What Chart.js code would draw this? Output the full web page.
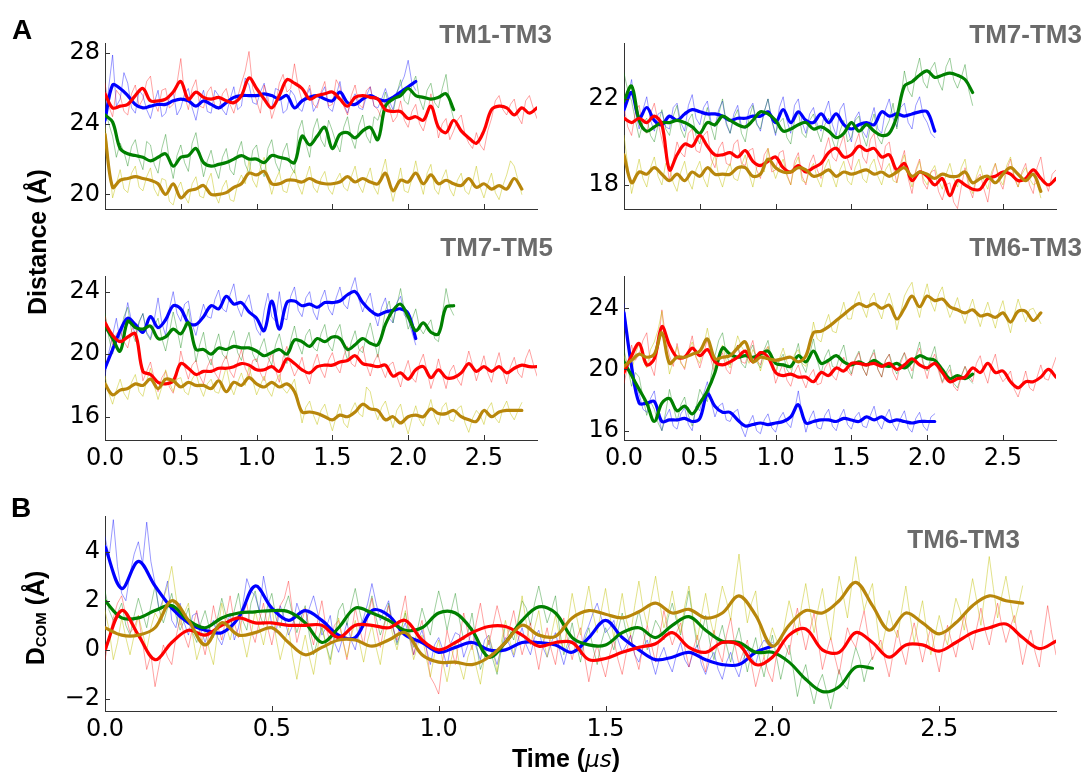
<!DOCTYPE html>
<html>
<head>
<meta charset="utf-8">
<script src="https://cdn.jsdelivr.net/npm/chart.js@4.4.1/dist/chart.umd.min.js"></script>
<style>
  body { margin: 0; width: 1086px; height: 773px; background: #fff; position: relative; overflow: hidden; font-family: "Liberation Sans", Arial, sans-serif; }
  canvas { position: absolute; }
  .letter { position: absolute; font: bold 28px "Liberation Sans", Arial, sans-serif; line-height: 1; color: #000; }
  .tag { position: absolute; font: bold 26px "Liberation Sans", Arial, sans-serif; line-height: 1; color: #6b6b6b; white-space: nowrap; }
  .ytitle { position: absolute; font: bold 25px "Liberation Sans", Arial, sans-serif; line-height: 1; white-space: nowrap; transform: translate(-50%, -50%) rotate(-90deg); }
  .ytitle sub { font-size: 15px; vertical-align: -2px; }
  .xtitle { position: absolute; font: bold 25px "Liberation Sans", Arial, sans-serif; line-height: 1; white-space: nowrap; transform: translate(-50%, -50%); }
  .xtitle i { font-family: "DejaVu Sans", sans-serif; font-weight: normal; font-size: 23px; }
</style>
</head>
<body>
<canvas id="tm13" width="557" height="235" style="left:0;top:19px"></canvas>
<canvas id="tm73" width="536" height="235" style="left:540px;top:19px"></canvas>
<canvas id="tm75" width="557" height="233" style="left:0;top:252px"></canvas>
<canvas id="tm63" width="536" height="233" style="left:540px;top:252px"></canvas>
<canvas id="dcom" width="1076" height="264" style="left:0;top:492px"></canvas>

<div class="letter" style="left:12px;top:16px">A</div>
<div class="letter" style="left:11px;top:494px">B</div>
<div class="tag" style="right:534px;top:21px">TM1-TM3</div>
<div class="tag" style="right:4px;top:21px">TM7-TM3</div>
<div class="tag" style="right:533px;top:234px">TM7-TM5</div>
<div class="tag" style="right:4px;top:234px">TM6-TM3</div>
<div class="tag" style="right:66px;top:526px">TM6-TM3</div>
<div class="ytitle" style="left:37px;top:242px">Distance (Å)</div>
<div class="ytitle" style="left:35px;top:618px">D<sub>COM</sub> (Å)</div>
<div class="xtitle" style="left:566px;top:758px">Time (<i>μs</i>)</div>

<script>
// sampling intervals (µs): smoothed traces, raw traces in A, raw traces in B
const stepFit = 0.05;
const stepRawA = 0.025;
const stepRawB = 0.0125;

const timeTicks = [0, 0.5, 1, 1.5, 2, 2.5];
const timeMax = 2.85;

// TM1-TM3
const tm13Ticks = [20, 24, 28];
const tm13BlueFit = [24.2, 26.2, 26.0, 25.6, 25.1, 24.9, 25.0, 25.1, 25.1, 25.3, 25.4, 25.3, 25.0, 25.3, 25.1, 24.9, 25.2, 25.5, 25.6, 25.6, 25.6, 25.7, 25.6, 25.4, 25.6, 24.9, 25.3, 25.5, 25.6, 25.4, 25.3, 25.8, 25.2, 25.1, 25.4, 25.6, 25.4, 25.3, 25.5, 25.8, 26.1, 26.4];
const tm13BlueRaw = [23.8, 26.1, 27.9, 25.0, 25.4, 26.9, 26.3, 24.9, 24.6, 25.9, 25.6, 24.8, 24.3, 25.2, 25.9, 24.4, 24.6, 25.5, 25.8, 24.5, 24.9, 25.7, 26.0, 24.9, 24.2, 25.3, 25.9, 24.7, 24.6, 25.9, 25.6, 24.8, 24.5, 25.4, 26.1, 24.8, 25.0, 26.6, 26.2, 25.2, 25.1, 25.8, 26.3, 25.1, 24.9, 26.0, 25.9, 24.6, 24.8, 25.9, 25.6, 24.9, 24.7, 25.5, 26.0, 24.7, 25.1, 25.7, 26.1, 24.9, 24.7, 25.6, 26.4, 25.1, 24.6, 25.3, 25.7, 24.9, 24.8, 25.6, 26.1, 25.0, 24.9, 25.4, 26.0, 25.3, 24.8, 25.8, 26.2, 26.7, 27.6, 26.3, 25.9];
const tm13GreenFit = [24.5, 24.1, 22.6, 22.3, 22.2, 22.1, 21.9, 22.1, 22.3, 21.6, 22.1, 22.2, 22.6, 21.8, 21.6, 21.7, 21.8, 22.0, 22.2, 22.0, 22.0, 21.8, 22.2, 22.1, 22.0, 21.8, 23.3, 22.8, 23.3, 23.8, 22.6, 23.4, 23.5, 23.2, 23.6, 23.8, 23.1, 25.0, 25.4, 25.6, 26.0, 25.6, 25.5, 25.4, 25.5, 25.7, 24.8];
const tm13GreenRaw = [24.9, 24.0, 23.3, 22.1, 22.9, 22.4, 21.6, 22.7, 23.1, 22.0, 21.4, 23.0, 22.8, 21.7, 21.2, 22.6, 23.4, 21.9, 20.9, 22.2, 22.8, 21.8, 21.3, 22.9, 23.5, 22.2, 21.0, 21.9, 22.5, 21.5, 20.9, 22.1, 22.6, 21.4, 21.1, 22.4, 23.0, 21.7, 21.2, 22.5, 22.8, 21.6, 21.0, 22.6, 23.1, 21.8, 21.3, 22.4, 22.9, 21.6, 21.2, 23.6, 24.2, 22.9, 22.1, 23.7, 24.3, 23.1, 22.7, 24.2, 23.6, 22.9, 22.4, 23.8, 24.4, 23.2, 22.6, 23.9, 24.5, 23.3, 22.9, 24.4, 24.2, 24.9, 25.8, 25.0, 24.6, 25.7, 26.5, 25.3, 25.1, 26.2, 26.7, 25.4, 24.8, 25.9, 26.3, 25.2, 24.9, 26.0, 26.8, 25.1, 24.3];
const tm13RedFit = [25.7, 24.9, 25.0, 25.1, 25.6, 26.0, 25.3, 25.3, 25.4, 25.8, 26.4, 25.4, 25.8, 25.5, 25.4, 25.5, 25.3, 25.2, 25.6, 26.6, 26.0, 25.4, 24.9, 25.6, 26.5, 26.3, 26.0, 25.4, 25.6, 25.7, 25.8, 25.4, 25.0, 25.5, 25.6, 25.5, 25.4, 24.8, 24.7, 24.7, 24.3, 24.4, 24.2, 25.0, 23.8, 23.5, 24.2, 23.6, 23.2, 22.9, 23.6, 24.8, 25.0, 24.9, 24.5, 24.9, 24.6, 24.9];
const tm13RedRaw = [26.3, 25.0, 24.4, 25.9, 25.6, 24.7, 24.5, 25.7, 26.2, 25.0, 25.4, 26.4, 26.7, 25.2, 24.7, 25.9, 26.0, 24.9, 25.1, 26.3, 27.7, 25.6, 24.8, 26.0, 26.5, 25.0, 24.9, 25.8, 26.1, 25.0, 24.8, 25.7, 26.0, 25.1, 24.6, 25.5, 26.3, 27.0, 28.1, 26.0, 25.3, 24.6, 26.2, 25.5, 24.3, 25.0, 26.3, 26.8, 25.8, 26.0, 27.4, 26.1, 25.3, 25.6, 26.2, 25.1, 24.9, 25.8, 26.4, 25.0, 25.1, 26.5, 26.1, 25.0, 24.5, 25.6, 26.2, 25.1, 24.9, 25.9, 26.1, 25.0, 24.8, 24.3, 25.4, 24.9, 24.1, 24.4, 25.3, 24.2, 23.8, 24.7, 25.1, 24.0, 23.6, 24.4, 25.7, 24.6, 23.2, 24.0, 24.3, 23.1, 23.6, 24.2, 24.5, 23.4, 22.9, 22.6, 23.5, 22.8, 22.5, 23.6, 24.3, 25.3, 25.6, 24.8, 24.5, 25.1, 25.4, 24.4, 24.0, 25.3, 25.6, 24.9, 24.3];
const tm13GoldFit = [23.4, 20.4, 20.8, 20.9, 21.0, 20.9, 20.8, 20.6, 20.0, 20.6, 19.8, 20.2, 20.3, 20.5, 20.0, 20.0, 20.1, 20.4, 20.6, 21.2, 21.1, 21.3, 20.6, 20.6, 20.8, 20.8, 20.7, 20.9, 20.7, 20.6, 20.6, 20.7, 21.0, 20.7, 20.9, 20.7, 20.6, 21.2, 20.2, 20.8, 20.7, 21.2, 20.6, 21.1, 20.6, 20.8, 20.6, 20.5, 20.9, 20.4, 20.6, 20.3, 20.5, 20.3, 20.9, 20.3];
const tm13GoldRaw = [23.9, 21.8, 19.8, 20.6, 21.4, 20.3, 20.1, 21.2, 21.6, 20.4, 20.2, 21.0, 21.5, 20.3, 19.9, 20.9, 20.8, 19.6, 19.4, 20.3, 20.7, 19.9, 19.5, 20.6, 21.0, 19.9, 19.8, 20.7, 21.2, 20.0, 19.5, 20.4, 20.8, 19.7, 19.6, 20.6, 21.1, 20.6, 21.9, 20.8, 20.4, 21.5, 22.1, 20.9, 20.0, 20.8, 21.3, 20.2, 20.1, 21.0, 21.4, 20.5, 20.0, 20.9, 21.6, 20.4, 20.1, 20.9, 21.3, 20.3, 20.0, 20.8, 21.2, 20.4, 20.2, 21.0, 21.6, 20.5, 20.1, 20.9, 21.5, 20.4, 20.0, 21.2, 22.0, 20.6, 19.6, 20.5, 21.5, 20.2, 20.1, 20.9, 21.9, 20.8, 20.0, 21.2, 21.7, 20.3, 20.0, 20.9, 21.4, 20.3, 19.9, 20.8, 21.2, 20.2, 20.0, 20.7, 21.6, 20.4, 19.8, 20.6, 21.2, 20.1, 19.7, 20.5, 21.1, 21.9, 21.6, 20.8, 20.0];

// TM7-TM3
const tm73Ticks = [18, 22];
const tm73BlueFit = [21.5, 22.3, 21.1, 21.6, 21.0, 20.8, 21.2, 21.0, 21.3, 21.5, 21.4, 21.3, 21.3, 21.2, 21.0, 21.1, 21.1, 21.2, 21.2, 21.4, 20.9, 21.5, 20.9, 21.4, 21.0, 20.9, 21.3, 20.9, 21.3, 20.8, 20.6, 20.8, 20.9, 20.8, 21.4, 21.2, 21.3, 21.2, 21.3, 21.4, 21.4, 20.5];
const tm73BlueRaw = [21.2, 22.1, 22.9, 21.4, 20.6, 21.5, 22.1, 21.0, 20.5, 21.3, 21.4, 20.7, 20.6, 21.6, 21.8, 20.9, 20.5, 21.7, 22.2, 21.1, 20.8, 21.6, 21.9, 20.9, 20.7, 21.5, 21.9, 20.8, 20.4, 21.3, 21.7, 20.7, 20.6, 21.5, 21.8, 20.9, 20.5, 21.4, 22.0, 21.0, 20.3, 21.6, 22.1, 21.0, 20.4, 21.7, 22.0, 20.9, 20.4, 21.3, 21.6, 20.8, 20.5, 21.4, 21.9, 20.8, 20.3, 21.5, 21.8, 20.6, 20.0, 21.1, 21.4, 20.5, 20.2, 21.0, 21.6, 20.6, 20.4, 21.5, 22.0, 21.1, 20.7, 21.6, 21.8, 20.9, 20.6, 21.7, 22.1, 21.2, 20.9, 20.4, 20.2];
const tm73GreenFit = [21.9, 22.6, 21.0, 20.5, 20.7, 20.9, 20.9, 21.0, 20.9, 20.7, 20.4, 20.9, 20.8, 21.2, 21.0, 20.8, 20.7, 21.0, 21.4, 21.3, 21.0, 20.5, 20.6, 20.8, 20.9, 20.6, 20.7, 20.5, 20.2, 20.4, 20.9, 20.5, 20.8, 20.5, 20.3, 20.4, 21.2, 22.6, 22.8, 23.1, 23.3, 23.0, 23.1, 23.2, 23.1, 22.9, 22.3];
const tm73GreenRaw = [23.2, 22.4, 21.9, 21.0, 20.2, 20.9, 21.1, 20.3, 20.0, 20.8, 21.5, 20.6, 20.3, 21.2, 21.7, 20.6, 20.2, 21.0, 21.3, 20.3, 19.9, 20.9, 21.6, 20.7, 20.1, 21.3, 22.0, 20.9, 20.4, 21.1, 21.5, 20.4, 20.0, 21.1, 21.7, 20.8, 20.6, 21.4, 22.0, 21.0, 20.4, 20.9, 21.1, 20.2, 19.9, 21.0, 21.4, 20.4, 20.2, 21.0, 21.3, 20.5, 20.0, 20.8, 21.1, 20.1, 19.6, 20.5, 21.0, 20.0, 20.2, 21.0, 21.2, 20.3, 19.8, 20.7, 21.3, 20.2, 19.9, 20.6, 21.0, 21.8, 20.6, 22.0, 23.3, 22.4, 22.1, 23.2, 23.9, 22.8, 22.5, 23.4, 23.7, 22.8, 22.4, 23.5, 23.9, 22.9, 22.5, 23.0, 23.6, 22.4, 21.7];
const tm73RedFit = [21.1, 20.9, 21.1, 20.9, 21.2, 20.8, 18.7, 19.4, 19.9, 19.8, 20.3, 19.8, 19.4, 19.4, 19.5, 19.3, 19.6, 19.1, 18.9, 19.1, 19.3, 18.8, 18.6, 18.9, 18.6, 18.8, 19.0, 19.5, 19.7, 19.3, 19.4, 19.8, 19.6, 19.7, 19.3, 19.4, 18.7, 19.0, 18.2, 18.6, 18.4, 18.0, 18.3, 17.5, 18.2, 18.0, 17.8, 17.8, 18.3, 18.4, 18.6, 18.5, 18.2, 18.3, 18.7, 18.3, 18.0, 18.3];
const tm73RedRaw = [21.6, 20.7, 20.3, 21.4, 21.7, 20.6, 20.4, 21.3, 21.8, 20.9, 20.1, 19.4, 18.2, 19.1, 20.0, 19.5, 19.3, 20.4, 20.6, 19.6, 19.5, 20.3, 20.5, 19.2, 18.8, 19.7, 20.0, 19.0, 18.9, 19.9, 20.1, 19.0, 18.9, 19.6, 19.7, 18.7, 18.3, 19.4, 19.7, 18.6, 18.7, 19.5, 19.6, 18.5, 18.0, 19.1, 19.5, 18.4, 18.0, 19.0, 19.4, 18.7, 18.3, 19.6, 20.2, 19.3, 19.1, 19.8, 20.3, 19.2, 18.7, 19.9, 20.4, 19.3, 19.0, 20.1, 20.4, 19.2, 18.7, 19.8, 20.0, 18.9, 18.1, 19.0, 19.6, 18.3, 17.6, 18.7, 19.2, 18.1, 17.8, 18.6, 18.7, 17.7, 17.3, 18.0, 18.1, 17.2, 16.9, 17.9, 18.8, 17.9, 17.4, 18.3, 18.5, 17.8, 17.2, 18.4, 19.0, 18.2, 17.8, 18.7, 19.2, 18.3, 17.9, 18.6, 19.0, 18.0, 17.6, 18.8, 19.3, 18.2, 17.7, 18.5, 18.7];
const tm73GoldFit = [19.4, 18.1, 18.6, 18.5, 18.8, 18.5, 18.2, 18.5, 18.2, 18.6, 18.4, 18.8, 18.5, 18.5, 18.5, 18.8, 18.8, 18.4, 18.5, 19.2, 18.8, 18.6, 18.6, 18.8, 18.7, 18.4, 18.5, 18.7, 18.4, 18.6, 18.5, 18.6, 18.7, 18.5, 18.6, 18.4, 18.6, 18.8, 18.4, 18.6, 18.5, 18.3, 18.5, 18.4, 18.4, 18.6, 18.1, 18.3, 18.4, 18.1, 18.5, 18.8, 18.5, 18.2, 18.5, 17.7];
const tm73GoldRaw = [20.3, 18.9, 17.6, 18.4, 19.2, 18.3, 17.9, 18.8, 19.3, 18.4, 18.0, 19.0, 18.8, 18.1, 17.7, 18.6, 19.1, 18.2, 17.8, 18.7, 19.1, 18.3, 17.9, 18.9, 19.4, 18.4, 17.9, 18.6, 19.0, 18.3, 18.2, 18.9, 19.4, 18.5, 17.9, 18.8, 19.0, 18.6, 19.7, 18.9, 18.3, 18.8, 19.2, 18.4, 18.0, 18.9, 19.3, 18.2, 18.1, 18.7, 19.0, 18.3, 17.9, 18.8, 19.2, 18.4, 17.9, 18.7, 19.1, 18.2, 18.0, 18.8, 19.2, 18.3, 18.1, 18.9, 19.2, 18.4, 18.0, 18.7, 19.0, 18.2, 18.1, 18.9, 19.4, 18.5, 17.9, 18.6, 19.1, 18.3, 18.0, 18.6, 18.9, 18.2, 17.8, 18.5, 19.0, 18.3, 17.9, 18.8, 19.2, 18.1, 17.6, 18.4, 18.9, 18.2, 17.8, 18.6, 19.0, 18.3, 18.0, 18.9, 19.3, 18.4, 17.9, 18.5, 18.8, 18.3, 18.0, 18.1, 17.4];

// TM7-TM5
const tm75Ticks = [16, 20, 24];
const tm75BlueFit = [19.1, 20.3, 21.5, 22.3, 21.9, 21.4, 22.4, 21.7, 22.2, 23.1, 22.9, 22.0, 21.9, 22.4, 23.1, 22.9, 23.7, 23.2, 23.3, 22.7, 22.3, 21.5, 23.4, 21.6, 23.3, 23.4, 23.1, 23.2, 23.0, 23.3, 23.3, 23.4, 23.8, 24.0, 23.3, 22.8, 22.5, 22.7, 22.8, 22.9, 22.6, 21.0];
const tm75BlueRaw = [18.6, 20.1, 21.2, 22.3, 20.8, 22.0, 23.3, 22.1, 21.2, 22.0, 22.6, 21.4, 21.0, 22.2, 23.6, 22.0, 21.2, 22.9, 24.0, 22.6, 22.1, 23.2, 23.4, 21.9, 21.2, 22.3, 23.2, 22.4, 22.3, 23.5, 24.1, 22.9, 22.7, 23.8, 24.5, 23.0, 22.4, 23.3, 23.8, 22.6, 21.6, 21.2, 22.8, 23.9, 22.4, 22.1, 24.0, 22.3, 22.2, 23.7, 24.3, 22.8, 22.4, 23.6, 24.0, 22.7, 22.2, 23.5, 24.1, 22.9, 22.5, 23.6, 24.3, 23.2, 22.9, 24.2, 24.9, 23.5, 22.7, 23.4, 23.9, 22.6, 21.8, 23.0, 23.6, 22.3, 22.0, 23.3, 23.7, 22.5, 22.2, 21.4, 20.6];
const tm75GreenFit = [21.8, 21.0, 20.2, 22.1, 21.7, 21.6, 21.8, 21.0, 21.1, 21.6, 21.3, 22.0, 20.3, 20.3, 20.0, 20.4, 20.3, 20.5, 20.4, 20.4, 20.2, 19.9, 20.1, 20.3, 20.0, 20.9, 20.8, 20.5, 21.0, 20.8, 21.1, 21.0, 20.3, 20.6, 21.0, 20.7, 20.6, 21.9, 22.8, 23.2, 22.4, 21.5, 22.0, 21.4, 21.3, 23.0, 23.1];
const tm75GreenRaw = [22.6, 21.1, 20.0, 20.9, 21.2, 22.4, 23.0, 21.5, 20.8, 22.1, 22.6, 21.3, 20.9, 21.8, 22.3, 21.0, 20.2, 21.4, 22.7, 21.6, 20.4, 21.8, 22.9, 21.3, 19.5, 20.6, 21.4, 19.9, 19.3, 20.5, 21.3, 20.0, 19.7, 20.9, 21.5, 20.1, 19.6, 20.7, 21.4, 20.0, 19.5, 20.4, 21.0, 19.8, 19.3, 20.6, 21.3, 20.2, 19.4, 20.9, 21.8, 20.6, 20.0, 21.2, 21.6, 20.4, 20.2, 21.3, 21.9, 20.6, 20.2, 21.4, 21.9, 20.5, 19.6, 20.8, 21.5, 20.3, 20.1, 21.2, 22.0, 20.9, 19.8, 21.4, 22.8, 23.4, 22.0, 23.1, 24.2, 22.8, 21.6, 22.2, 22.9, 21.7, 21.3, 21.8, 22.2, 21.0, 20.8, 22.5, 24.2, 23.0, 22.5];
const tm75RedFit = [22.0, 21.2, 20.8, 21.1, 21.3, 18.9, 18.7, 18.2, 18.1, 18.3, 19.4, 19.1, 18.7, 18.9, 18.9, 19.1, 19.1, 19.2, 19.4, 19.3, 19.0, 19.0, 19.2, 18.9, 19.7, 19.4, 19.0, 18.8, 19.2, 19.3, 19.3, 19.5, 19.6, 19.9, 19.4, 19.3, 19.2, 19.3, 18.6, 18.8, 18.4, 19.0, 19.2, 18.5, 19.0, 18.5, 18.5, 18.8, 19.4, 18.9, 19.2, 18.9, 19.2, 18.8, 19.1, 19.3, 19.2, 19.2];
const tm75RedRaw = [22.4, 21.5, 20.6, 21.3, 21.6, 20.8, 20.4, 21.5, 22.0, 20.1, 18.3, 18.9, 19.5, 18.4, 17.6, 18.5, 18.9, 17.9, 17.5, 18.6, 20.2, 19.2, 18.4, 19.3, 19.6, 18.6, 18.1, 19.2, 19.7, 18.8, 18.4, 19.4, 19.9, 18.9, 18.5, 19.5, 20.3, 19.1, 18.6, 19.6, 19.7, 18.8, 18.3, 19.4, 20.1, 19.0, 18.2, 19.8, 20.5, 19.3, 18.6, 19.1, 19.8, 18.7, 18.1, 19.3, 20.0, 19.0, 18.5, 19.6, 20.1, 19.2, 18.8, 19.9, 20.5, 19.4, 19.2, 20.2, 20.5, 19.3, 18.6, 19.5, 20.0, 19.1, 18.5, 19.3, 19.5, 18.6, 17.9, 18.9, 19.6, 18.5, 18.2, 19.4, 20.0, 18.9, 17.8, 18.6, 19.7, 18.7, 17.8, 18.9, 19.3, 18.4, 18.0, 19.2, 20.2, 19.3, 18.3, 19.1, 19.9, 18.8, 18.2, 19.3, 20.1, 18.9, 18.1, 19.2, 19.8, 18.8, 18.5, 19.7, 20.3, 19.4, 18.6];
const tm75GoldFit = [18.1, 17.4, 17.7, 17.8, 18.1, 18.0, 18.4, 17.8, 18.4, 18.3, 17.9, 18.2, 18.0, 18.0, 17.8, 18.3, 17.6, 18.2, 18.0, 18.5, 18.1, 17.9, 18.2, 17.9, 18.1, 17.6, 16.3, 16.3, 16.2, 16.0, 15.8, 16.1, 16.0, 16.3, 16.8, 16.5, 16.4, 15.8, 16.0, 15.6, 16.0, 16.1, 16.0, 16.5, 16.2, 16.2, 16.4, 16.0, 15.8, 15.7, 16.4, 16.0, 16.3, 16.4, 16.4, 16.4];
const tm75GoldRaw = [18.6, 17.5, 16.8, 17.7, 18.4, 17.5, 17.1, 18.2, 18.7, 17.6, 17.3, 18.3, 19.1, 18.0, 17.1, 17.9, 19.0, 18.2, 17.6, 18.4, 18.5, 17.6, 17.4, 18.4, 18.8, 17.9, 17.3, 18.1, 18.4, 17.6, 17.5, 18.3, 19.2, 18.0, 17.4, 18.2, 18.8, 18.0, 19.2, 18.3, 17.4, 18.0, 18.6, 17.7, 17.3, 18.2, 18.7, 17.8, 17.5, 17.9, 18.4, 17.0, 15.6, 16.6, 17.0, 16.1, 15.5, 16.4, 16.8, 15.9, 15.1, 16.0, 16.8, 15.6, 15.3, 16.4, 16.9, 16.2, 16.0, 17.9, 17.6, 16.5, 15.8, 16.6, 17.0, 16.1, 15.3, 16.4, 16.8, 15.7, 14.9, 15.9, 16.7, 15.8, 15.4, 16.3, 17.1, 16.0, 15.5, 16.6, 16.9, 15.8, 15.7, 16.5, 16.7, 15.6, 15.0, 15.9, 16.4, 16.1, 15.5, 16.5, 16.9, 15.9, 15.6, 16.5, 17.0, 16.2, 15.8, 16.4, 16.9];

// TM6-TM3
const tm63Ticks = [16, 20, 24];
const tm63BlueFit = [23.7, 20.2, 17.8, 17.8, 17.9, 16.6, 16.7, 16.7, 16.8, 16.6, 16.8, 18.4, 17.6, 17.2, 17.2, 16.7, 16.3, 16.4, 16.5, 16.4, 16.5, 16.6, 16.9, 17.7, 16.5, 16.6, 16.7, 16.7, 16.6, 16.8, 16.7, 16.6, 16.9, 16.7, 16.9, 16.6, 16.7, 16.6, 16.5, 16.6, 16.6, 16.6];
const tm63BlueRaw = [24.3, 21.8, 19.6, 18.9, 18.4, 17.4, 17.2, 18.1, 18.6, 17.0, 16.0, 16.9, 17.4, 16.3, 16.1, 17.1, 17.5, 16.4, 16.0, 17.6, 17.3, 18.4, 19.2, 17.9, 16.9, 17.6, 17.8, 16.7, 16.6, 17.2, 17.4, 16.2, 15.6, 16.5, 17.0, 16.0, 15.8, 16.7, 17.1, 16.2, 15.9, 16.8, 17.2, 16.5, 16.2, 17.3, 18.6, 17.1, 15.9, 16.8, 17.3, 16.2, 16.1, 17.0, 17.4, 16.3, 16.0, 16.9, 17.4, 16.4, 16.1, 16.9, 17.2, 16.3, 16.2, 17.0, 17.6, 16.5, 16.1, 16.9, 17.4, 16.4, 16.0, 16.8, 17.3, 16.2, 15.9, 16.8, 17.2, 16.3, 16.0, 16.9, 17.1];
const tm63GreenFit = [20.5, 19.6, 18.7, 17.8, 16.6, 17.8, 18.1, 17.3, 17.6, 17.1, 17.8, 18.6, 19.8, 21.4, 21.0, 20.8, 20.9, 20.8, 21.0, 21.2, 20.4, 20.3, 20.2, 20.9, 20.5, 21.2, 20.4, 20.6, 20.9, 20.5, 20.3, 20.5, 20.3, 20.6, 20.3, 20.2, 20.4, 20.1, 20.5, 20.9, 20.7, 20.6, 20.0, 19.4, 19.6, 19.4, 19.7];
const tm63GreenRaw = [21.3, 20.1, 18.9, 19.8, 19.5, 18.2, 17.0, 17.9, 17.4, 16.5, 16.0, 17.2, 18.7, 17.6, 16.6, 17.7, 18.2, 17.0, 16.3, 17.5, 18.7, 18.2, 17.9, 19.6, 20.9, 21.9, 22.4, 21.0, 20.3, 21.2, 21.6, 20.4, 20.1, 21.1, 21.6, 20.5, 20.1, 21.3, 21.9, 20.6, 19.7, 20.6, 21.0, 20.0, 19.6, 20.8, 21.7, 20.3, 19.8, 21.0, 22.0, 20.6, 19.7, 20.8, 21.3, 20.2, 20.1, 21.0, 21.6, 20.3, 19.7, 20.7, 21.2, 20.1, 19.6, 20.7, 21.3, 20.0, 19.5, 20.6, 21.0, 20.2, 19.7, 20.6, 21.1, 20.0, 19.4, 20.9, 21.8, 20.4, 19.9, 20.8, 21.5, 20.1, 19.2, 19.8, 20.3, 19.1, 18.8, 19.6, 20.2, 19.4, 19.1];
const tm63RedFit = [19.8, 20.9, 21.7, 20.3, 20.7, 22.8, 21.6, 20.8, 20.8, 21.4, 20.9, 21.3, 20.5, 20.3, 20.5, 20.8, 21.2, 20.5, 21.1, 20.8, 19.8, 19.6, 19.7, 19.5, 19.5, 19.2, 19.8, 19.6, 20.1, 19.9, 20.4, 20.4, 20.3, 20.4, 20.2, 20.4, 20.0, 20.3, 20.7, 20.3, 20.1, 20.4, 19.8, 19.2, 19.4, 19.5, 20.1, 19.8, 20.4, 19.8, 19.9, 19.2, 18.8, 19.2, 19.2, 19.5, 20.0, 19.5];
const tm63RedRaw = [19.1, 20.2, 21.6, 20.6, 21.0, 21.9, 22.4, 20.3, 19.6, 21.5, 23.9, 22.1, 20.9, 20.2, 21.7, 20.5, 20.0, 21.2, 22.2, 20.8, 20.1, 21.0, 22.0, 20.6, 19.7, 20.6, 21.1, 20.0, 19.7, 20.9, 21.6, 20.5, 20.4, 21.2, 21.9, 20.6, 20.3, 21.2, 21.5, 20.4, 19.1, 19.8, 20.4, 19.3, 18.9, 19.8, 20.3, 19.4, 18.8, 19.6, 20.0, 19.0, 19.1, 20.1, 20.5, 19.6, 19.3, 20.2, 20.8, 19.9, 19.6, 20.6, 21.1, 20.1, 19.6, 20.7, 21.1, 20.0, 19.5, 20.6, 21.0, 19.8, 19.3, 20.4, 21.1, 20.5, 19.9, 20.8, 21.4, 20.3, 19.4, 20.5, 21.0, 19.9, 19.1, 19.6, 20.0, 18.9, 18.6, 19.5, 20.2, 19.7, 19.2, 20.4, 20.9, 19.8, 19.1, 20.3, 21.0, 19.7, 19.2, 19.5, 19.9, 18.7, 18.2, 19.0, 19.9, 18.8, 18.6, 19.5, 20.3, 19.4, 19.3, 20.1, 20.8];
const tm63GoldFit = [20.2, 20.6, 21.0, 20.8, 21.0, 22.4, 20.4, 20.8, 20.8, 21.0, 21.2, 22.0, 20.7, 20.8, 20.9, 21.4, 21.8, 20.5, 20.8, 20.7, 20.6, 20.7, 20.8, 20.5, 20.9, 22.4, 22.5, 22.8, 23.2, 23.6, 24.0, 24.3, 24.1, 24.3, 24.0, 24.2, 23.3, 24.0, 24.8, 24.1, 24.8, 24.5, 24.6, 24.1, 23.9, 23.7, 23.9, 23.5, 23.6, 23.4, 23.7, 23.1, 23.8, 23.8, 23.2, 23.7];
const tm63GoldRaw = [20.9, 20.0, 19.8, 21.0, 21.7, 20.6, 20.1, 21.3, 21.8, 22.6, 23.8, 21.4, 19.7, 20.6, 21.5, 20.4, 20.1, 21.2, 21.8, 20.8, 20.4, 21.5, 22.7, 21.4, 20.0, 20.9, 21.6, 20.5, 20.1, 21.2, 22.2, 21.5, 21.1, 20.4, 21.3, 20.9, 19.9, 20.8, 21.5, 20.6, 19.9, 20.7, 21.4, 20.5, 20.0, 21.0, 21.3, 20.4, 20.2, 21.6, 23.1, 22.0, 21.8, 22.9, 23.6, 22.5, 22.4, 23.5, 24.4, 23.3, 23.3, 24.5, 25.1, 24.0, 23.4, 24.6, 25.0, 23.9, 23.3, 24.4, 25.0, 24.1, 22.6, 23.7, 24.8, 25.3, 25.7, 24.3, 23.4, 24.7, 25.6, 24.4, 23.8, 24.9, 25.4, 24.2, 23.4, 24.0, 24.7, 23.7, 23.0, 23.9, 24.6, 23.6, 22.8, 23.7, 24.4, 23.5, 22.7, 23.8, 24.5, 23.3, 22.4, 23.6, 24.6, 23.8, 23.1, 23.9, 24.0, 23.5, 23.0];

// D_COM, TM6-TM3
const dcomTicks = [-2, 0, 2, 4];
const dcomBlueFit = [4.2, 2.5, 3.6, 2.6, 1.7, 1.1, 0.8, 0.7, 1.3, 2.6, 1.7, 1.2, 1.6, 1.2, 0.6, 0.5, 1.6, 1.4, 0.6, 0.3, -0.1, 0.1, 0.3, 0.0, 0.0, 0.3, 0.3, 0.2, -0.1, 0.5, 1.2, 0.5, 0.0, -0.4, -0.3, -0.1, -0.4, -0.6, -0.6, -0.1, 0.15];
const dcomBlueRaw = [4.6, 3.8, 5.3, 3.4, 2.3, 2.0, 3.1, 3.9, 4.4, 3.5, 5.2, 3.6, 2.7, 1.6, 2.1, 2.8, 1.2, 0.9, 1.9, 1.1, 0.6, 1.4, 1.5, 0.8, 0.3, 0.9, 1.2, 0.5, 0.2, 0.8, 1.5, 0.4, 0.9, 1.8, 2.9, 2.4, 2.2, 1.6, 3.0, 2.1, 1.0, 0.7, 1.8, 1.3, 0.6, 1.0, 1.9, 1.4, 1.0, 1.7, 2.2, 1.5, 0.6, 0.9, 1.4, 0.3, -0.1, 0.5, 1.1, 0.4, 0.0, 0.9, 1.3, 1.9, 2.7, 1.9, 1.2, 1.6, 2.0, 1.0, 0.3, 0.7, 1.1, 0.5, -0.2, 0.4, 0.8, 0.1, -0.6, 0.2, 0.5, 0.0, -0.7, 0.3, 0.7, 0.6, -0.3, 0.2, 0.9, 0.1, -0.4, 0.4, 0.6, -0.1, -0.6, 0.1, 0.5, 0.2, -0.3, 0.4, 0.9, 0.2, -0.2, 0.5, 0.8, 0.1, -0.3, 0.3, 0.7, 0.0, -0.6, 0.1, 0.4, 0.3, -0.2, 0.6, 1.0, 1.5, 1.9, 1.3, 0.7, 0.9, 1.2, 0.4, -0.1, 0.2, 0.6, -0.2, -0.5, 0.1, 0.4, -0.4, -1.0, -0.3, 0.1, -0.5, -0.9, -0.2, 0.3, -0.4, -0.7, -0.1, 0.2, -0.6, -1.0, -0.4, -0.1, -0.8, -1.2, -0.5, -0.1, -0.7, -1.1, -0.4, 0.0, -0.3, -0.6, 0.1, 0.4, 0.2, 0.3];
const dcomGreenFit = [2.0, 1.3, 1.3, 1.6, 1.8, 1.2, 0.9, 1.3, 1.5, 1.55, 1.6, 1.55, 1.1, 0.3, 0.9, 1.7, 1.5, 1.2, 0.8, 0.9, 1.5, 1.5, 0.8, -0.3, 0.3, 1.2, 1.75, 1.5, 0.5, 0.2, 0.2, 0.7, 0.9, 0.5, 1.0, 1.35, 0.8, 0.35, 0.3, -0.1, -0.1, -0.5, -1.2, -1.7, -1.5, -0.7, -0.75];
const dcomGreenRaw = [2.4, 1.6, 1.2, 1.5, 1.9, 1.0, 0.6, 1.4, 2.1, 1.5, 0.9, 1.8, 2.6, 1.6, 1.1, 1.7, 2.3, 1.4, 0.8, 1.2, 1.7, 0.7, 0.3, 1.1, 1.6, 0.9, 0.5, 1.3, 2.1, 1.4, 0.9, 1.6, 2.3, 1.2, 0.8, 1.9, 2.4, 1.5, 1.0, 1.8, 2.3, 1.3, 0.9, 1.7, 2.2, 1.4, 0.7, 1.3, 1.8, 0.6, -0.2, 0.4, 0.9, 0.2, -0.4, 0.5, 1.6, 1.9, 1.0, 1.8, 2.5, 1.6, 0.9, 1.5, 2.2, 1.3, 0.6, 1.1, 1.9, 0.9, 0.2, 0.8, 1.5, 0.6, 0.1, 0.9, 1.7, 1.1, 0.6, 1.6, 2.4, 1.7, 0.8, 1.6, 2.3, 1.2, 0.4, 0.7, 1.5, 0.3, -0.8, -0.3, 0.4, -0.4, -1.0, 0.0, 1.0, 0.8, 0.4, 1.2, 2.0, 1.7, 1.0, 1.9, 2.6, 1.8, 1.1, 1.6, 2.2, 0.8, -0.2, 0.3, 1.1, 0.2, -0.5, 0.4, 0.9, 0.1, -0.6, 0.3, 0.9, 0.5, 0.0, 0.8, 1.5, 0.7, 0.2, 0.9, 1.6, 0.8, 0.0, 0.6, 1.2, 0.9, 0.4, 1.3, 1.9, 1.2, 0.6, 1.5, 2.4, 1.2, 0.1, 0.6, 1.4, 0.3, -0.4, 0.4, 1.0, 0.2, -0.5, 0.3, 0.9, 0.0, -0.9, -0.1, 0.5, -0.4, -1.1, -0.2, 0.6, -0.3, -1.2, -0.4, 0.2, -0.8, -1.9, -1.1, -0.6, -1.5, -2.2, -1.4, -1.0, -1.7, -2.4, -1.6, -0.8, -1.4, -1.6, -0.6, 0.1, -0.4, -1.3, -0.6, -0.3];
const dcomRedFit = [0.0, 1.6, 0.6, -0.4, 0.3, 0.8, 0.6, 1.0, 1.3, 1.1, 1.1, 1.0, 1.0, 1.0, 0.5, 1.0, 1.0, 0.9, 1.2, 0.4, 0.0, 0.3, 0.7, 0.95, 0.95, 0.6, 0.15, 0.3, 0.3, -0.4, -0.35, -0.1, 0.1, 0.25, 0.7, 0.1, -0.1, 0.3, 0.2, -0.6, -0.3, 0.6, 0.85, 0.0, -0.1, 0.7, 0.3, -0.3, 0.2, 0.2, -0.05, 0.3, 0.7, 0.9, 1.05, 0.5, 0.05, 0.35];
const dcomRedRaw = [-0.4, 0.5, 1.3, 1.9, 2.2, 1.4, 0.7, 0.9, 1.4, 0.3, -0.8, -0.2, -1.5, -0.6, 0.2, -0.3, -0.6, 0.5, 1.3, 0.6, 0.1, 0.9, 1.6, 0.5, -0.2, 0.7, 1.8, 1.0, 0.4, 1.3, 2.2, 1.1, 0.5, 1.4, 1.9, 0.8, 0.3, 1.2, 1.9, 0.9, 0.2, 1.1, 1.8, 2.1, 2.8, 1.5, 0.3, 1.0, 1.7, 0.9, 0.2, 1.2, 2.0, 0.9, 0.3, 1.0, 1.2, 0.4, -0.4, 0.6, 1.7, 0.9, 0.2, 1.3, 2.1, 0.9, 0.1, 1.0, 1.8, 0.9, 0.4, 1.4, 2.2, 0.8, -0.2, 0.6, 1.2, 0.1, -1.1, -1.4, -1.8, -0.4, 0.8, 0.1, -0.6, 0.5, 1.5, 0.7, 0.0, 1.1, 1.9, 0.9, 0.2, 1.0, 1.8, 1.1, 0.3, 0.9, 1.6, 0.6, -0.2, 0.4, 1.1, 0.1, -0.8, 0.2, 0.9, 0.0, -0.6, 0.5, 1.3, 0.3, -0.4, 0.4, 0.9, -0.3, -1.3, -0.4, 0.2, -0.5, -1.1, -0.2, 0.4, -0.4, -1.0, -0.1, 0.6, -0.2, -0.8, 0.2, 1.0, 0.2, -0.5, 0.6, 1.6, 0.8, 0.2, 0.7, 1.1, 0.1, -0.7, 0.0, 0.6, -0.3, -0.9, 0.1, 0.8, 0.0, -0.5, 0.6, 1.3, 0.2, -0.6, -0.1, 0.4, -0.6, -1.5, -0.8, -0.3, -0.9, -1.3, -0.2, 0.5, 0.2, -0.2, 0.9, 1.7, 0.8, 0.0, 0.8, 1.5, 0.3, -0.8, -0.1, 0.5, -0.3, -1.0, 0.0, 0.9, 0.4, 0.1, 0.9, 1.6, 0.5, -0.4, 0.1, 0.4, -0.4, -1.1, -0.1, 0.8, 0.0, -0.6, 0.4, 1.1, 0.3, -0.5, 0.3, 0.9, -0.1, -0.9, 0.2, 1.0, 0.3, -0.3, 0.6, 1.4, 0.6, 0.0, 0.9, 1.7, 0.8, 0.2, 1.1, 1.9, 1.0, 0.3, 0.9, 1.4, 0.4, -0.6, 0.2, 0.8, -0.1, -0.7, 0.6, 1.8, 0.7, -0.2];
const dcomGoldFit = [0.9, 0.6, 0.6, 0.9, 2.0, 1.2, 0.2, 1.1, 0.6, 0.7, 0.9, 0.3, -0.2, 0.1, 0.4, 0.4, 0.15, 0.4, 0.7, -0.2, -0.5, -0.5, -0.6, -0.3, 0.3, 1.0, 0.6, 0.55, 1.3, 1.6, 1.45, 1.3, 1.55, 1.9, 1.5, 1.65, 1.3, 1.5, 2.2, 1.4, 0.15, 1.0, 1.6, 1.5, 2.0, 2.75, 1.8, 0.8, 1.5, 1.1, 0.65, 1.1, 1.8, 2.2, 2.0, 1.9];
const dcomGoldRaw = [1.6, 0.8, -0.4, 0.3, 1.3, 0.5, -0.2, 0.6, 1.4, 0.7, 0.0, 0.9, 1.5, 1.2, 2.1, 2.6, 3.4, 2.2, 1.0, 1.5, 1.9, 0.6, -0.4, 0.2, 0.8, 0.0, -0.6, 0.7, 1.9, 1.0, 0.4, 1.1, 1.5, 0.5, -0.3, 0.6, 1.6, 0.9, 0.2, 1.1, 1.8, 0.5, -0.4, 0.3, 0.9, -0.3, -1.2, -0.2, 0.6, -0.3, -1.0, 0.1, 1.0, 0.2, -0.6, 0.5, 1.3, 0.4, -0.3, 0.5, 1.2, 0.3, -0.5, 0.4, 1.0, 0.1, -0.6, 0.5, 1.3, 0.6, 0.0, 0.8, 1.6, 0.5, -0.4, 0.2, 0.6, -0.3, -1.1, -0.2, 0.4, -0.5, -1.3, -0.4, 0.3, -0.6, -1.2, -0.3, 0.2, -0.7, -1.4, -0.3, 0.6, 0.0, -0.9, 0.3, 1.2, 0.4, -0.2, 1.0, 2.2, 1.1, 0.2, 0.9, 1.6, 0.5, -0.3, 0.6, 1.4, 0.5, 0.0, 1.2, 2.3, 1.4, 0.6, 1.7, 2.6, 1.5, 0.7, 1.6, 2.5, 1.4, 0.5, 1.3, 2.3, 1.2, 0.6, 1.8, 2.8, 1.7, 1.0, 2.1, 3.0, 1.9, 0.9, 1.5, 2.4, 1.4, 0.7, 1.8, 2.6, 1.3, 0.4, 1.4, 2.3, 1.3, 0.6, 1.7, 2.6, 2.0, 1.2, 2.6, 3.9, 2.3, 1.1, 1.9, 2.4, 0.8, -0.3, 0.2, 0.9, 0.4, 0.1, 1.1, 2.0, 1.3, 0.6, 1.8, 2.7, 1.6, 0.7, 1.7, 2.5, 1.3, 0.4, 1.8, 3.0, 2.2, 1.3, 2.6, 3.8, 2.6, 1.6, 2.2, 2.7, 1.2, -0.1, 0.7, 1.6, 0.9, 0.5, 1.6, 2.6, 1.4, 0.3, 1.2, 2.0, 0.8, -0.2, 0.6, 1.4, 0.7, 0.2, 1.2, 2.1, 1.6, 0.8, 1.9, 2.9, 2.0, 1.0, 2.4, 3.8, 2.5, 1.3, 2.2, 3.0, 2.0, 1.1, 1.8, 2.6];

const AXIS_COLOR = "#333333";
const TICK_FONT = { family: "DejaVu Sans", size: 24 };
const FIT_COLORS = { blue: "#0000ff", green: "#008000", red: "#ff0000", gold: "#b8860b" };
const RAW_COLORS = {
  blue: "rgba(0,0,255,0.4)",
  green: "rgba(0,128,0,0.38)",
  red: "rgba(255,0,0,0.36)",
  gold: "rgba(191,191,0,0.46)",
};

const toPoints = (values, step) => values.map((v, i) => ({ x: i * step, y: v }));

// matplotlib-style ticks pointing into the plot
const inwardTicks = {
  id: "inwardTicks",
  afterDraw(chart) {
    const { ctx, chartArea, scales } = chart;
    ctx.save();
    ctx.strokeStyle = AXIS_COLOR;
    ctx.lineWidth = 1;
    ctx.beginPath();
    scales.x.ticks.forEach((t) => {
      const px = Math.round(scales.x.getPixelForValue(t.value)) + 0.5;
      ctx.moveTo(px, chartArea.bottom);
      ctx.lineTo(px, chartArea.bottom - 5);
    });
    scales.y.ticks.forEach((t) => {
      const py = Math.round(scales.y.getPixelForValue(t.value)) + 0.5;
      ctx.moveTo(chartArea.left, py);
      ctx.lineTo(chartArea.left + 5, py);
    });
    ctx.stroke();
    ctx.restore();
  },
};

const buildDatasets = (series, rawStep) => {
  const names = ["blue", "green", "red", "gold"];
  const raw = names.map((name, i) => ({
    data: toPoints(series[name].raw, rawStep),
    borderColor: RAW_COLORS[name],
    borderWidth: 1,
    tension: 0,
    order: 20 - i,
  }));
  const fits = names.map((name, i) => ({
    data: toPoints(series[name].fit, stepFit),
    borderColor: FIT_COLORS[name],
    borderWidth: 3.2,
    tension: 0.35,
    order: 3 - i,
  }));
  return [...raw, ...fits];
};

const makePanel = (id, series, rawStep, yMin, yMax, yTicks, yAxisWidth, showTime) =>
  new Chart(document.getElementById(id), {
    type: "line",
    data: { datasets: buildDatasets(series, rawStep) },
    options: {
      responsive: false,
      animation: false,
      events: [],
      layout: { padding: { top: 24, right: 20, left: 0, bottom: 0 } },
      plugins: { legend: { display: false }, tooltip: { enabled: false } },
      elements: { point: { radius: 0 }, line: { borderJoinStyle: "round", borderCapStyle: "round" } },
      scales: {
        x: {
          type: "linear",
          min: 0,
          max: timeMax,
          grid: { display: false, drawTicks: false },
          border: { display: true, color: AXIS_COLOR, width: 1 },
          afterBuildTicks: (scale) => {
            scale.ticks = timeTicks.map((v) => ({ value: v }));
          },
          afterFit: (scale) => {
            scale.height = 45;
          },
          ticks: {
            display: showTime,
            padding: 4,
            color: "#000",
            font: TICK_FONT,
            maxRotation: 0,
            callback: (v) => Number(v).toFixed(1),
          },
        },
        y: {
          type: "linear",
          min: yMin,
          max: yMax,
          grid: { display: false, drawTicks: false },
          border: { display: true, color: AXIS_COLOR, width: 1 },
          afterBuildTicks: (scale) => {
            scale.ticks = yTicks.map((v) => ({ value: v }));
          },
          afterFit: (scale) => {
            scale.width = yAxisWidth;
          },
          ticks: {
            padding: 5,
            color: "#000",
            font: TICK_FONT,
            callback: (v) => (v < 0 ? "\u2212" + Math.abs(v) : String(v)),
          },
        },
      },
    },
    plugins: [inwardTicks],
  });

makePanel("tm13", {
  blue: { fit: tm13BlueFit, raw: tm13BlueRaw },
  green: { fit: tm13GreenFit, raw: tm13GreenRaw },
  red: { fit: tm13RedFit, raw: tm13RedRaw },
  gold: { fit: tm13GoldFit, raw: tm13GoldRaw },
}, stepRawA, 19.17, 28.58, tm13Ticks, 105, false);

makePanel("tm73", {
  blue: { fit: tm73BlueFit, raw: tm73BlueRaw },
  green: { fit: tm73GreenFit, raw: tm73GreenRaw },
  red: { fit: tm73RedFit, raw: tm73RedRaw },
  gold: { fit: tm73GoldFit, raw: tm73GoldRaw },
}, stepRawA, 16.88, 24.6, tm73Ticks, 84, false);

makePanel("tm75", {
  blue: { fit: tm75BlueFit, raw: tm75BlueRaw },
  green: { fit: tm75GreenFit, raw: tm75GreenRaw },
  red: { fit: tm75RedFit, raw: tm75RedRaw },
  gold: { fit: tm75GoldFit, raw: tm75GoldRaw },
}, stepRawA, 14.51, 25.0, tm75Ticks, 105, true);

makePanel("tm63", {
  blue: { fit: tm63BlueFit, raw: tm63BlueRaw },
  green: { fit: tm63GreenFit, raw: tm63GreenRaw },
  red: { fit: tm63RedFit, raw: tm63RedRaw },
  gold: { fit: tm63GoldFit, raw: tm63GoldRaw },
}, stepRawA, 15.39, 26.11, tm63Ticks, 84, true);

makePanel("dcom", {
  blue: { fit: dcomBlueFit, raw: dcomBlueRaw },
  green: { fit: dcomGreenFit, raw: dcomGreenRaw },
  red: { fit: dcomRedFit, raw: dcomRedRaw },
  gold: { fit: dcomGoldFit, raw: dcomGoldRaw },
}, stepRawB, -2.49, 5.45, dcomTicks, 105, true);
</script>
</body>
</html>
